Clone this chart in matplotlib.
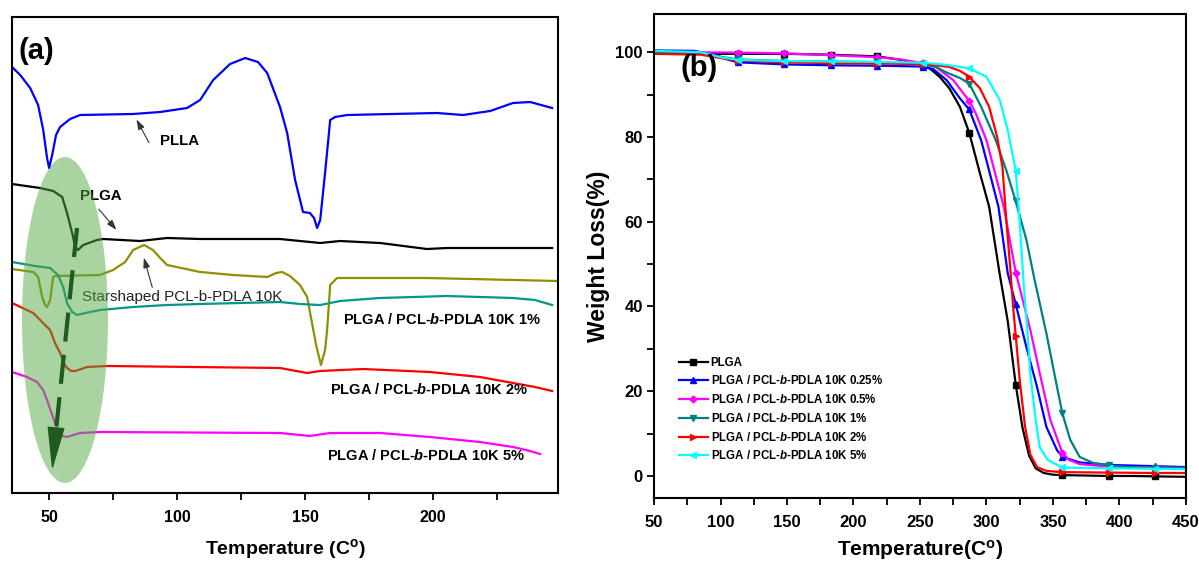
import numpy as np
import matplotlib
matplotlib.use("Agg")
import matplotlib.pyplot as plt
from matplotlib import font_manager as fm
from matplotlib.patches import Ellipse, FancyArrowPatch
from matplotlib.ticker import MultipleLocator

# ---- fonts ----
names = {f.name for f in fm.fontManager.ttflist}
narrow = 'Liberation Sans Narrow' if 'Liberation Sans Narrow' in names else 'Liberation Sans'
plt.rcParams['font.family'] = [narrow, 'DejaVu Sans']
plt.rcParams['mathtext.fontset'] = 'custom'
plt.rcParams['mathtext.rm'] = narrow + ':bold'
plt.rcParams['mathtext.bf'] = narrow + ':bold'
plt.rcParams['mathtext.it'] = narrow + ':italic:bold'

# ---- (a) DSC curves, temperature (C) vs heat flow (a.u.) ----
plla_t = [35.5, 38.7, 42.6, 45.7, 47.7, 49.2, 50.0, 51.2, 52.7, 54.3, 58.2, 62.1, 82.8, 93.4, 103.9,
          109.0, 114.1, 120.7, 126.6, 131.6, 135.2, 140.2, 143.0, 146.1, 149.2, 151.9, 153.5, 154.7,
          155.9, 157.8, 159.8, 161.7, 166.4, 201.6, 211.7, 222.3, 231.2, 237.9, 246.5]
plla_h = [426, 418, 405, 388, 363, 335, 325, 338, 358, 366, 374, 378, 379, 381, 385,
          393, 413, 429, 435, 431, 420, 386, 360, 313, 281, 280, 275, 265,
          273, 320, 373, 376, 378, 380, 378, 382, 390, 391, 385]

plga_t = [35.5, 46.5, 51.6, 55.1, 57.0, 59.0, 60.2, 61.3, 63.3, 68.7, 71.1, 85.5, 96.1, 109.0,
          140.2, 155.9, 163.7, 179.3, 197.6, 205.5, 246.5]
plga_h = [309, 305, 302, 296, 280, 260, 246, 243, 248, 253, 254, 252, 255, 254,
          254, 250, 252, 250, 244, 245, 245]

star_t = [35.5, 43.8, 45.7, 47.3, 48.4, 49.2, 50.4, 51.6, 52.3, 69.9, 75.0, 79.7, 82.8, 87.1, 90.6,
          93.4, 96.1, 109.0, 121.9, 135.2, 138.7, 141.0, 144.1, 148.0, 150.8, 152.7, 154.3, 156.2,
          157.8, 158.6, 159.8, 162.5, 197.6, 248.8]
star_h = [224, 221, 216, 196, 188, 186, 193, 216, 217, 218, 223, 231, 243, 248, 243,
          235, 228, 221, 218, 216, 220, 221, 217, 208, 196, 170, 148, 128,
          143, 163, 208, 215, 215, 212]

b1_t = [35.5, 44.5, 50.4, 53.5, 55.5, 57.0, 59.0, 60.9, 64.1, 69.9, 82.8, 96.1, 109.0, 140.2,
        148.0, 155.9, 163.7, 179.3, 205.5, 231.2, 239.8, 246.5]
b1_h = [231, 227, 225, 218, 206, 190, 181, 178, 180, 183, 186, 188, 189, 191,
        189, 188, 192, 195, 197, 195, 193, 188]

b2_t = [35.5, 43.8, 49.2, 50.4, 52.3, 54.3, 55.9, 57.0, 58.6, 60.2, 64.8, 72.7, 140.2, 150.8,
        155.9, 172.6, 198.8, 218.3, 231.2, 239.8, 246.5]
b2_h = [190, 180, 166, 163, 150, 140, 129, 125, 122, 122, 126, 127, 125, 120,
        122, 124, 121, 116, 110, 106, 102]

b5_t = [35.5, 41.4, 45.3, 47.7, 49.2, 50.8, 52.3, 53.9, 55.1, 57.0, 62.1, 69.9, 140.2, 151.9,
        159.8, 179.3, 198.8, 218.3, 231.2, 237.9, 241.8]
b5_h = [121, 116, 111, 103, 93, 81, 70, 61, 57, 56, 60, 61, 60, 57,
        60, 60, 56, 51, 46, 42, 39]

# ---- (b) TGA curves, temperature (C) vs weight (%) ----
marks = [113, 148, 183, 218, 252, 287, 322, 357, 392, 427]

tga_plga_t = [50, 80, 113, 148, 183, 218, 235, 245, 252, 258, 265, 272, 280, 287, 295, 302, 310,
              316, 322, 327, 332, 337, 343, 350, 357, 375, 392, 410, 427, 450]
tga_plga_w = [99.6, 99.6, 99.6, 99.6, 99.4, 99.0, 98.2, 97.6, 97.0, 96.0, 94.1, 91.5, 87.1, 81.0,
              71.5, 63.5, 47.5, 36.5, 21.5, 11.5, 4.8, 1.8, 0.7, 0.3, 0.2, 0.1, 0.0, 0.0, -0.1, -0.2]

tga_025_t = [50, 80, 95, 105, 113, 148, 183, 218, 252, 260, 270, 280, 287, 296, 302, 309, 316,
             322, 330, 338, 345, 353, 357, 370, 392, 427, 450]
tga_025_w = [100.4, 100.3, 99.5, 98.3, 97.6, 97.1, 96.9, 96.8, 96.6, 96.0, 93.4, 89.1, 86.5, 79.2,
             72.0, 63.5, 47.8, 40.5, 30.4, 21.0, 11.6, 6.1, 4.5, 3.2, 2.6, 2.3, 2.1]

tga_05_t = [50, 113, 148, 183, 218, 235, 252, 262, 275, 287, 292, 300, 306, 313, 322, 325, 333,
            340, 348, 357, 362, 370, 392, 427, 450]
tga_05_w = [100.0, 99.9, 99.7, 99.3, 98.8, 98.3, 97.4, 96.5, 93.4, 88.5, 85.5, 79.2, 72.0, 63.5,
            48.0, 44.3, 34.4, 24.3, 13.2, 5.5, 3.8, 2.8, 2.2, 2.0, 1.9]

tga_1_t = [50, 85, 100, 113, 148, 183, 218, 252, 262, 270, 280, 287, 296, 307, 315, 322, 330,
           336, 345, 352, 357, 363, 370, 380, 392, 405, 427, 450]
tga_1_w = [100.0, 99.8, 98.9, 98.3, 97.9, 97.8, 97.6, 97.2, 96.5, 95.2, 93.9, 92.6, 87.1, 79.2,
           72.0, 64.8, 55.7, 46.5, 33.7, 22.6, 14.8, 8.5, 4.5, 3.1, 2.5, 2.1, 1.9, 1.9]

tga_2_t = [50, 85, 100, 113, 148, 183, 218, 252, 262, 272, 280, 287, 295, 302, 308, 312, 315,
           318, 320, 322, 325, 329, 333, 338, 345, 357, 392, 427, 450]
tga_2_w = [99.6, 99.4, 98.6, 98.0, 97.6, 97.4, 97.3, 97.2, 96.9, 96.5, 95.6, 94.2, 91.5, 87.1,
           80.0, 72.9, 60.0, 48.5, 40.0, 33.0, 22.6, 11.6, 5.0, 2.1, 1.2, 0.9, 0.8, 0.7, 0.7]

tga_5_t = [50, 85, 100, 113, 148, 183, 218, 252, 270, 287, 300, 310, 316, 322, 325, 328, 331,
           333, 337, 340, 346, 357, 370, 392, 427, 450]
tga_5_w = [100.3, 100.0, 98.8, 98.2, 97.9, 97.8, 97.7, 97.5, 97.0, 96.2, 94.2, 88.7, 81.6, 72.0,
           60.0, 45.0, 33.0, 24.0, 13.2, 6.8, 3.8, 2.0, 1.9, 1.8, 1.7, 1.6]

# ---- figure ----
W, H = 1199, 569
fig = plt.figure(figsize=(W / 100, H / 100), dpi=100)
ax1 = fig.add_axes([12 / W, 1 - 493 / H, 546 / W, 476 / H])
ax2 = fig.add_axes([654 / W, 1 - 498 / H, 532 / W, 484 / H])

# panel (a)
lw = 1.6
ax1.plot(plla_t, plla_h, color='#0000ff', lw=lw)
ax1.plot(plga_t, plga_h, color='black', lw=lw)
ax1.plot(star_t, star_h, color='#8f8f00', lw=lw)
ax1.plot(b1_t, b1_h, color='#00968c', lw=lw)
ax1.plot(b2_t, b2_h, color='#ff0000', lw=lw)
ax1.plot(b5_t, b5_h, color='#ff00ff', lw=lw)

ax1.set_xlim(35.5, 248.8)
ax1.set_ylim(0, 476)
ax1.set_yticks([])
ax1.xaxis.set_major_locator(MultipleLocator(50))
ax1.xaxis.set_minor_locator(MultipleLocator(25))
ax1.tick_params(axis='x', which='both', direction='out', length=5, width=1.3, pad=7,
                labelsize=11.5)
for lab in ax1.get_xticklabels():
    lab.set_fontweight('bold')
ax1.set_xlabel(r'Temperature (C$^{\mathrm{o}}$)', fontsize=14, fontweight='bold', labelpad=9)

ell = Ellipse((56.2, 173), 33.6, 326, facecolor='#55aa44', alpha=0.5, edgecolor='none', zorder=4)
ax1.add_patch(ell)

dk = '#1f5a1f'
ax1.plot([60.9, 52.4], [265, 55], color=dk, lw=3.0, ls=(0, (7, 3.2)), zorder=5, solid_capstyle='butt')
ax1.add_patch(FancyArrowPatch((52.6, 62), (51.1, 20), arrowstyle='-|>,head_length=1.4,head_width=0.28',
                              mutation_scale=20, color=dk, lw=1, zorder=5))

bold = dict(fontsize=10.8, fontweight='bold', color='black')
ax1.text(37.9, 442, '(a)', fontsize=21, fontweight='bold', va='center', ha='left')
ax1.text(93.4, 352, 'PLLA', va='center', ha='left', **bold)
ax1.annotate('', xy=(83.6, 376), xytext=(89.5, 348),
             arrowprops=dict(arrowstyle='-|>,head_length=0.6,head_width=0.2', color='#333333', lw=0.8))
ax1.text(62.1, 297, 'PLGA', va='center', ha='left', zorder=3, **bold)
ax1.annotate('', xy=(77.0, 261), xytext=(68.7, 286),
             arrowprops=dict(arrowstyle='-|>,head_length=0.6,head_width=0.2', color='#333333', lw=0.8))
ax1.text(62.9, 196.5, 'Starshaped PCL-b-PDLA 10K', va='center', ha='left', fontsize=11,
         color='#222222', zorder=3)
ax1.annotate('', xy=(86.7, 238), xytext=(90.6, 203),
             arrowprops=dict(arrowstyle='-|>,head_length=0.6,head_width=0.2', color='#333333', lw=0.8))
lab_kw = dict(fontsize=10.5, fontweight='bold', color='black', va='center', ha='left')
ax1.text(164.8, 173, 'PLGA / PCL-$b$-PDLA 10K 1%', **lab_kw)
ax1.text(159.8, 103, 'PLGA / PCL-$b$-PDLA 10K 2%', **lab_kw)
ax1.text(158.6, 38, 'PLGA / PCL-$b$-PDLA 10K 5%', **lab_kw)

# panel (b)
series = [
    (tga_plga_t, tga_plga_w, 'black', 's', 'PLGA'),
    (tga_025_t, tga_025_w, '#0000ff', '^', 'PLGA / PCL-$b$-PDLA 10K 0.25%'),
    (tga_05_t, tga_05_w, '#ff00ff', 'D', 'PLGA / PCL-$b$-PDLA 10K 0.5%'),
    (tga_1_t, tga_1_w, '#008080', 'v', 'PLGA / PCL-$b$-PDLA 10K 1%'),
    (tga_2_t, tga_2_w, '#ff0000', '>', 'PLGA / PCL-$b$-PDLA 10K 2%'),
    (tga_5_t, tga_5_w, '#00ffff', '<', 'PLGA / PCL-$b$-PDLA 10K 5%'),
]
for t, w, c, m, lab in series:
    idx = list(np.where(np.isin(t, marks))[0])
    ax2.plot(t, w, color=c, lw=1.6, marker=m, markersize=4.5 if m != 'D' else 3.5,
             markevery=idx, label=lab)

ax2.set_xlim(50, 450)
ax2.set_ylim(-5.2, 109)
ax2.xaxis.set_major_locator(MultipleLocator(50))
ax2.xaxis.set_minor_locator(MultipleLocator(25))
ax2.yaxis.set_major_locator(MultipleLocator(20))
ax2.yaxis.set_minor_locator(MultipleLocator(10))
ax2.tick_params(axis='both', which='both', direction='out', length=5, width=1.3, labelsize=12)
ax2.tick_params(axis='x', pad=7)
ax2.tick_params(axis='y', pad=3)
for lab in ax2.get_xticklabels() + ax2.get_yticklabels():
    lab.set_fontweight('bold')
ax2.set_xlabel(r'Temperature(C$^{\mathrm{o}}$)', fontsize=15, fontweight='bold', labelpad=6)
ax2.set_ylabel('Weight Loss(%)', fontsize=16.5, fontweight='bold', family='Liberation Sans', labelpad=4)
ax2.text(70.3, 96.2, '(b)', fontsize=21, fontweight='bold', va='center', ha='left')

leg = ax2.legend(loc='upper left', bbox_to_anchor=(0.047, 0.292), frameon=False,
                 prop=dict(size=8.3, weight='bold'), handlelength=2.5, handletextpad=0.25,
                 labelspacing=0.5, borderaxespad=0, borderpad=0)

for ax in (ax1, ax2):
    for s in ax.spines.values():
        s.set_linewidth(1.5)

fig.savefig('out.png', dpi=100)
